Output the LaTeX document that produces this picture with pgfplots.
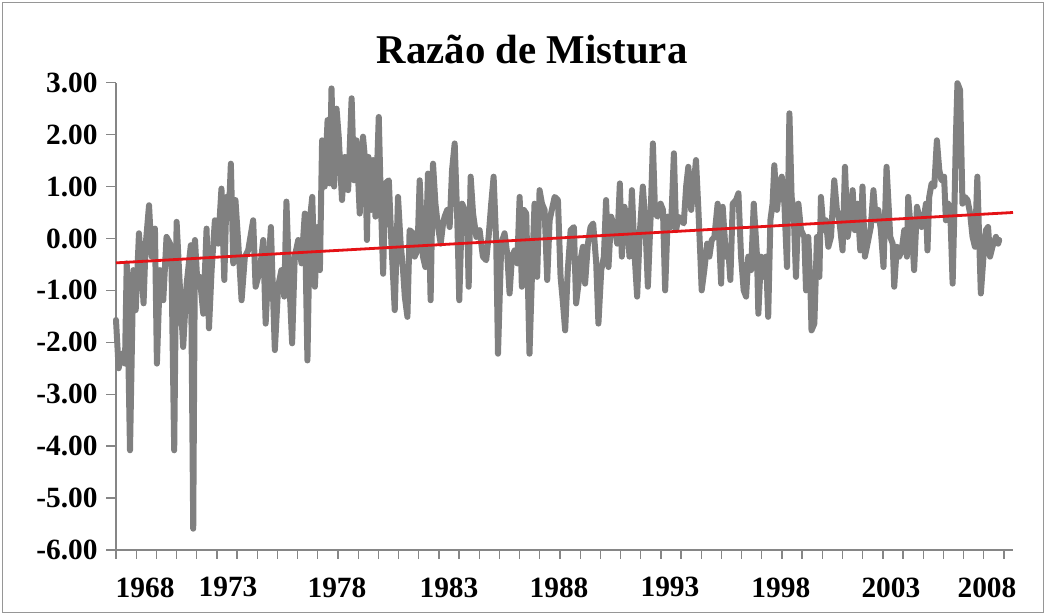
\documentclass[border=0pt]{standalone}
\usepackage{pgfplots}
\pgfplotsset{compat=1.18}
\usepackage{pgfplotstable}
\usepackage{fontspec}
\setmainfont{Liberation Serif}
\definecolor{lgray}{RGB}{128,128,128}
\definecolor{axgray}{RGB}{134,134,134}
\definecolor{trendred}{RGB}{228,18,22}
\pgfplotstableread{
year val
1968.00 -1.57
1968.12 -2.50
1968.27 -2.22
1968.41 -2.41
1968.49 -0.48
1968.64 -4.08
1968.79 -0.61
1968.90 -1.38
1969.05 0.10
1969.17 -0.61
1969.26 -1.25
1969.35 -0.16
1969.51 0.64
1969.63 -0.35
1969.78 0.19
1969.87 -2.41
1970.01 -0.61
1970.16 -1.19
1970.31 0.03
1970.47 -0.10
1970.54 -0.61
1970.66 -4.08
1970.77 0.32
1970.92 -0.93
1971.07 -2.09
1971.23 -0.87
1971.42 -0.13
1971.53 -5.59
1971.61 -0.03
1971.73 -0.93
1971.83 -0.74
1971.99 -1.45
1972.14 0.19
1972.25 -1.73
1972.37 -0.61
1972.52 0.35
1972.67 -0.10
1972.82 0.96
1972.95 -0.80
1973.05 0.80
1973.16 0.48
1973.25 1.44
1973.36 -0.48
1973.46 0.74
1973.59 -0.10
1973.74 -1.19
1973.89 -0.35
1974.04 -0.23
1974.27 0.35
1974.38 -0.93
1974.58 -0.61
1974.73 -0.03
1974.84 -1.64
1974.96 -0.61
1975.08 0.22
1975.19 -1.25
1975.26 -2.15
1975.41 -0.93
1975.56 -0.61
1975.69 -1.12
1975.79 0.71
1975.90 -0.61
1976.05 -2.02
1976.17 -0.35
1976.33 -0.03
1976.48 -0.48
1976.63 0.48
1976.75 -2.35
1976.86 0.35
1976.97 0.80
1977.09 -0.93
1977.21 0.22
1977.32 -0.61
1977.42 1.89
1977.54 1.00
1977.67 2.28
1977.77 1.06
1977.85 2.89
1977.97 1.00
1978.08 2.50
1978.18 1.96
1978.33 0.74
1978.46 1.57
1978.61 0.93
1978.77 2.70
1978.88 1.12
1978.99 1.89
1979.14 0.48
1979.29 1.96
1979.40 1.44
1979.47 -0.03
1979.54 1.57
1979.67 0.55
1979.75 1.51
1979.86 0.42
1980.01 2.34
1980.10 0.80
1980.21 -0.68
1980.31 1.06
1980.47 1.12
1980.59 -0.10
1980.74 -1.38
1980.89 0.80
1981.01 -0.10
1981.12 -0.61
1981.20 -1.12
1981.32 -1.51
1981.42 0.16
1981.58 0.10
1981.65 -0.35
1981.78 -0.23
1981.88 1.12
1982.03 -0.35
1982.14 -0.55
1982.26 1.25
1982.38 -1.19
1982.49 1.44
1982.60 0.67
1982.72 0.22
1982.84 -0.10
1982.95 0.29
1983.02 0.42
1983.14 0.55
1983.25 0.22
1983.36 1.32
1983.48 1.83
1983.60 0.35
1983.69 -1.19
1983.82 0.67
1983.94 0.55
1984.06 0.16
1984.12 -0.93
1984.21 1.19
1984.32 0.48
1984.47 0.03
1984.62 0.16
1984.77 -0.35
1984.92 -0.42
1985.03 0.03
1985.15 0.67
1985.26 1.19
1985.38 -0.10
1985.46 -2.22
1985.61 -0.10
1985.76 0.10
1985.88 -0.29
1985.99 -1.06
1986.10 -0.35
1986.22 -0.23
1986.34 -0.48
1986.45 0.80
1986.55 -0.93
1986.64 0.55
1986.75 0.48
1986.83 -0.93
1986.90 -2.22
1987.01 -0.74
1987.13 0.67
1987.25 -0.74
1987.36 0.93
1987.47 0.67
1987.59 0.55
1987.71 -0.80
1987.82 0.35
1987.92 0.55
1988.05 0.80
1988.20 0.74
1988.32 -0.74
1988.43 -1.25
1988.53 -1.77
1988.65 -0.61
1988.78 0.16
1988.93 0.22
1989.03 -1.25
1989.14 -0.87
1989.26 -0.35
1989.34 -0.16
1989.44 -0.87
1989.57 -0.10
1989.69 0.22
1989.81 0.29
1989.95 -0.48
1990.05 -1.64
1990.18 -0.61
1990.30 -0.35
1990.40 0.74
1990.51 -0.55
1990.63 0.42
1990.78 0.22
1990.91 -0.10
1991.03 1.06
1991.12 -0.35
1991.24 0.61
1991.36 0.35
1991.47 -0.35
1991.58 0.93
1991.70 -0.29
1991.82 -1.12
1991.93 0.03
1992.08 1.00
1992.19 0.35
1992.31 -0.93
1992.43 0.35
1992.54 1.83
1992.64 0.48
1992.76 0.42
1992.89 0.67
1993.00 0.55
1993.10 -1.00
1993.22 0.42
1993.37 0.22
1993.50 1.64
1993.60 0.16
1993.71 0.42
1993.83 0.35
1993.95 0.29
1994.06 1.00
1994.16 1.38
1994.29 0.55
1994.44 1.19
1994.51 1.51
1994.62 0.55
1994.71 -0.35
1994.77 -1.00
1994.89 -0.61
1995.02 -0.10
1995.12 -0.35
1995.23 -0.03
1995.35 0.03
1995.50 0.67
1995.66 -0.87
1995.73 0.61
1995.88 -0.35
1995.99 -0.23
1996.08 -0.80
1996.19 0.67
1996.34 0.74
1996.45 0.87
1996.57 -0.35
1996.69 -1.00
1996.80 -1.12
1996.90 -0.35
1997.03 -0.61
1997.15 0.67
1997.30 -0.35
1997.36 -1.45
1997.48 -0.35
1997.60 -0.74
1997.71 -0.35
1997.81 -1.51
1997.91 0.35
1998.01 0.67
1998.09 1.41
1998.21 0.55
1998.32 1.00
1998.43 1.19
1998.55 0.67
1998.67 -0.55
1998.78 2.41
1998.88 0.80
1998.97 0.55
1999.08 -0.74
1999.19 0.67
1999.31 0.16
1999.46 0.03
1999.54 -1.00
1999.64 0.03
1999.74 -0.93
1999.79 -1.77
1999.92 -1.64
2000.04 0.03
2000.15 -0.74
2000.22 0.80
2000.34 0.16
2000.45 0.35
2000.56 -0.16
2000.68 0.03
2000.83 1.12
2000.95 0.55
2001.06 0.35
2001.21 -0.23
2001.32 1.38
2001.44 0.03
2001.56 0.35
2001.67 0.93
2001.77 0.16
2001.89 0.67
2002.02 -0.23
2002.12 1.00
2002.23 -0.35
2002.35 -0.10
2002.50 0.22
2002.62 0.93
2002.73 0.35
2002.84 0.55
2002.96 0.16
2003.08 -0.55
2003.22 1.38
2003.39 0.03
2003.50 -0.10
2003.57 -0.93
2003.69 -0.16
2003.80 -0.35
2003.91 -0.23
2004.03 0.16
2004.15 -0.35
2004.21 0.80
2004.33 0.16
2004.41 -0.10
2004.48 -0.61
2004.61 0.61
2004.71 0.42
2004.82 0.22
2004.91 0.35
2005.02 0.67
2005.09 -0.23
2005.17 0.80
2005.28 1.06
2005.40 1.00
2005.52 1.89
2005.63 1.32
2005.73 1.12
2005.85 1.19
2005.93 0.35
2006.04 0.67
2006.13 0.55
2006.24 -0.87
2006.31 0.35
2006.39 1.96
2006.46 2.99
2006.58 2.86
2006.69 0.67
2006.80 0.80
2006.92 0.74
2007.04 0.48
2007.15 0.03
2007.26 -0.16
2007.37 1.19
2007.45 0.03
2007.53 -1.06
2007.65 -0.35
2007.76 0.16
2007.86 0.22
2007.95 -0.35
2008.06 -0.16
2008.22 0.03
2008.32 -0.10
2008.37 -0.03
}\mixdata
\pgfplotstableread{
year val
1968 -0.47
2009 0.50
}\trenddata
\begin{document}
\begin{tikzpicture}[x=1bp,y=1bp]
\useasboundingbox (0,0) rectangle (1046,615);
\draw[color={rgb,255:red,150;green,150;blue,150}, line width=1.2bp] (2.5,2.5) rectangle (1043.5,612.5);
\node[font=\fontsize{41}{43}\selectfont\bfseries] at (532,565) {Razão de Mistura};
\begin{axis}[
  at={(116bp,65bp)}, anchor=south west,
  scale only axis, width=897bp, height=467.3bp,
  xmin=1968, xmax=2009, ymin=-6, ymax=3,
  axis x line=bottom, axis y line=left,
  axis line style={-, draw=axgray, line width=1.6bp},
  tick align=outside,
  major tick length=10bp, minor tick length=9bp,
  ytick={-6,-5,-4,-3,-2,-1,0,1,2,3},
  yticklabels={-6.00,-5.00,-4.00,-3.00,-2.00,-1.00,0.00,1.00,2.00,3.00},
  xtick={1969.33,1973.12,1978.10,1983.22,1988.25,1993.32,1998.39,2003.42,2007.81},
  xticklabels={1968,1973,1978,1983,1988,1993,1998,2003,2008},
  minor xtick={1968,1968.9224,...,2009},
  every major x tick/.style={draw=none},
  every minor x tick/.style={draw=axgray, line width=1.3bp},
  every major y tick/.style={draw=axgray, line width=1.3bp},
  tick label style={font=\fontsize{29.5}{31}\selectfont\bfseries, text=black},
  xticklabel style={yshift=-14bp},
  yticklabel style={xshift=-5bp},
  clip=false,
]
\addplot[color=lgray, line width=6bp, line join=round, line cap=round] table[x=year, y=val] {\mixdata};
\addplot[color=trendred, line width=2.8bp] table[x=year, y=val] {\trenddata};
\end{axis}
\end{tikzpicture}
\end{document}
